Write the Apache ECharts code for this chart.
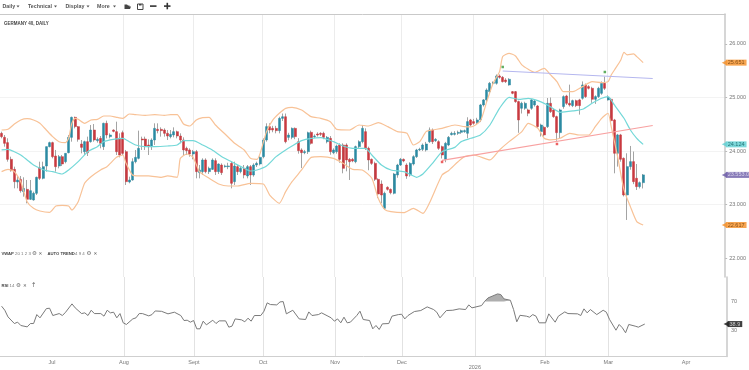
<!DOCTYPE html>
<html><head><meta charset="utf-8">
<style>html,body{margin:0;padding:0;background:#fff}#c{width:749px;height:370px}</style>
<script src="https://cdn.jsdelivr.net/npm/echarts@6/dist/echarts.min.js"></script>
</head><body><div id="c"></div>
<script>
const opens=[24330,24255,24156,23844,23657,23420,23470,23240,23283,23097,
23084,23209,23688,23489,23719,24081,24156,23906,23719,23894,
23800,23969,24255,24629,24455,24131,23987,24174,24174,24392,
24193,24236,24081,24517,24268,24392,24361,24236,24342,23987,
23420,23458,23800,23863,24224,24224,24112,24081,24205,24405,
24405,24392,24330,24268,24299,24361,24280,24205,24050,24019,
23944,23987,23595,23614,23832,23614,23657,23819,23614,23738,
23707,23707,23769,23427,23707,23614,23676,23533,23707,23551,
23738,23757,23894,24205,24455,24423,24423,24380,24610,24640,
24255,24255,24423,24174,24019,23969,23987,24349,24268,24318,
24330,24330,24174,24236,23969,23987,24112,24112,24112,23844,
23844,23800,24081,24174,24361,24050,23844,23769,23470,23383,
22928,23321,23283,23209,23551,23738,23844,23738,23551,23757,
23894,24019,24031,24019,24174,24392,24193,24174,24081,23844,
24112,24305,24311,24330,24349,24361,
24331,24580,24549,24530,24580,24860,24954,25109,25265,25265,25402,25377,25327,25234,25109,25109,24923,24798,24798,24767,24798,24860,24841,24362,24443,24455,24891,24767,24642,24343,24830,25028,24891,24848,24941,24954,24985,25234,25203,25172,24966,25016,25078,25265,
24954,24966,24580,23957,24300,23863,23178,23708,23801,23490,23334,23408];
const closes=[24268,24143,23844,23632,23427,23458,23258,23302,23097,23258,
23209,23508,23489,23707,24081,24156,23894,23707,23894,23757,
23956,24255,24629,24455,24218,24068,24174,23969,24392,24205,
24218,24143,24517,24299,24299,24367,23987,23925,23956,23427,
23458,23800,23881,24050,24205,24093,24081,24205,24423,24380,
24380,24330,24280,24311,24361,24280,24205,24019,24006,23944,
23987,23614,23645,23832,23614,23676,23832,23614,23757,23595,
23720,23720,23396,23719,23614,23676,23551,23707,23551,23738,
23769,23881,24205,24455,24392,24392,24380,24610,24640,24174,
24299,24423,24268,24006,23969,23987,24342,24143,24280,24299,
24311,24255,24255,23987,24019,24093,23844,23676,23832,23800,
23813,24081,24174,24423,24050,23832,23769,23470,23196,23177,
23209,23283,23221,23570,23738,23844,23813,23533,23769,23894,
24019,24031,24112,24131,24392,24174,24218,24050,23925,24143,
24255,24330,24330,24349,24380,24380,
24549,24486,24517,24580,24860,24954,25140,25265,25280,25402,25377,25296,25296,25340,25078,24923,24580,24891,24891,24705,24954,24935,24455,24486,24300,24891,24736,24642,24343,24767,25016,24891,24860,24941,24848,24848,25234,25016,25172,24966,25016,25172,25265,25172,
25003,24567,23957,24300,23845,23178,23708,23801,23427,23334,23408,23553];
const highs=[24361,24299,24237,23894,23707,23533,23533,23508,23458,23458,
23240,23520,23800,23800,24081,24174,24174,24019,23925,23925,
23956,24299,24642,24642,24467,24205,24193,24268,24486,24504,
24255,24280,24529,24567,24330,24405,24548,24330,24380,24019,
23520,23863,24019,24380,24268,24268,24218,24236,24517,24517,
24442,24423,24392,24392,24442,24380,24330,24255,24081,24050,
24019,24019,23738,23863,23863,23707,23863,23863,23769,23769,
23745,23780,23800,23800,23738,23707,23738,23738,23738,23769,
23800,23900,24236,24517,24517,24470,24470,24640,24700,24700,
24340,24440,24440,24240,24050,24020,24361,24380,24310,24350,
24350,24360,24280,24280,24050,24120,24143,24143,24143,23870,
23870,24100,24200,24486,24423,24081,23860,23800,23490,23450,
23240,23340,23300,23590,23760,23870,23860,23770,23790,23920,
24040,24060,24140,24170,24440,24420,24240,24200,24100,24170,
24280,24360,24370,24380,24400,24400,
24630,24600,24600,24620,24880,24970,25170,25290,25300,25430,25430,25400,25360,25360,25120,25120,24940,24920,24920,24790,24970,24950,24860,24510,24470,24990,25000,24790,24660,24790,25040,25050,25240,24960,24960,24975,25300,25260,25230,25200,25040,25200,25300,25390,
25040,24990,24600,24320,24320,23880,23957,24094,23990,23757,23430,23570];
const lows=[24237,24081,23800,23614,23302,23302,23221,23146,23022,23084,
23072,23177,23458,23470,23614,24068,23863,23614,23676,23719,
23769,23956,24174,24423,24174,23956,23925,23906,24156,24174,
24156,24050,24019,24236,24236,24349,23925,23881,23925,23364,
23396,23445,23769,23844,24019,24019,23925,24019,24112,24330,
24268,24268,24205,24236,24255,24236,24143,23925,23925,23894,
23844,23489,23489,23551,23583,23570,23645,23551,23570,23551,
23690,23660,23302,23364,23551,23583,23489,23489,23364,23520,
23700,23730,23863,24174,24330,24350,24330,24330,24560,24143,
24200,24220,24220,23950,23680,23940,23944,24120,24240,24270,
24280,24220,24143,23930,23940,23950,23780,23583,23620,23458,
23790,23770,24050,24143,24019,23640,23740,23440,23120,23022,
22900,23260,23190,23190,23500,23720,23790,23480,23520,23730,
23870,24000,24000,23990,24150,24130,24170,24020,23860,23790,
24090,24290,24290,24300,24320,24340,
24237,24460,24490,24500,24540,24830,24920,25080,25230,25240,25350,25280,25270,25220,25060,24900,24340,24700,24770,24650,24770,24830,24430,24270,24270,24430,24710,24620,24190,24240,24790,24860,24830,24820,24820,24680,24960,24990,25150,24900,24880,24990,25050,25140,
24940,24540,23583,23708,23800,23150,22711,23650,23380,23271,23300,23300];
// Bollinger readings: [bar number, price]
const bbUpper=[[0,24392],[2,24405],[4,24504],[6,24580],[8,24604],[10,24580],[12,24517],[14,24392],[16,24268],[18,24174],[20,24155],[21,24236],[22,24517],[23,24610],[24,24592],[26,24517],[28,24580],[30,24592],[32,24654],[34,24654],[36,24629],[38,24610],[40,24691],[42,24679],[45,24666],[48,24679],[51,24666],[53,24679],[55,24679],[57,24504],[59,24467],[61,24580],[63,24623],[65,24629],[67,24486],[70,24317],[73,24143],[76,24019],[78,23863],[80,23844],[81,23956],[83,24361],[85,24580],[87,24704],[89,24797],[91,24816],[94,24766],[97,24642],[100,24610],[103,24548],[105,24405],[109,24392],[112,24486],[115,24467],[118,24529],[121,24455],[124,24361],[127,24330],[129,24112],[131,24174],[133,24361],[135,24392],[138,24423],[142,24486],[145,24455],[147,24450],[150,24560],[152,24922],[154,25265],[156,25483],[157,25764],[159,25826],[161,25776],[163,25608],[165,25527],[167,25471],[170,25545],[172,25421],[174,25296],[176,25109],[179,25109],[182,25203],[185,25296],[188,25278],[190,25296],[191,25421],[192,25514],[194,25701],[195,25844],[196,25795],[198,25813],[199,25763],[201,25651]];
const bbMiddle=[[0,24019],[2,24031],[4,23987],[6,23925],[8,23832],[10,23738],[12,23676],[14,23632],[16,23614],[19,23570],[21,23645],[24,23800],[27,23987],[30,24081],[32,24174],[35,24218],[38,24236],[40,24174],[42,24112],[45,24081],[48,24081],[52,24093],[55,24112],[57,24193],[60,24193],[63,24112],[66,24019],[69,23894],[73,23769],[76,23676],[78,23626],[80,23645],[83,23720],[86,23894],[89,24019],[91,24093],[94,24193],[97,24236],[100,24249],[104,24174],[107,24093],[110,24050],[114,24050],[116,23925],[119,23738],[122,23645],[126,23614],[129,23533],[130,23508],[132,23570],[135,23769],[138,23987],[142,24068],[144,24175],[147,24237],[150,24299],[153,24486],[156,24798],[159,25003],[162,24966],[165,24985],[168,24941],[171,24860],[175,24723],[179,24748],[182,24779],[185,24891],[188,24985],[190,25016],[192,24860],[195,24611],[197,24393],[199,24237],[201,24124]];
const bbLower=[[0,23614],[2,23657],[4,23614],[6,23427],[8,23053],[10,22928],[12,22878],[15,22853],[17,22972],[19,22984],[21,22972],[22,22897],[24,23053],[26,23396],[28,23520],[31,23645],[33,23707],[36,23881],[38,23925],[39,23769],[41,23551],[43,23533],[46,23533],[50,23508],[52,23533],[55,23508],[56,23863],[58,23944],[60,23881],[62,23614],[65,23489],[68,23383],[71,23346],[74,23346],[78,23396],[82,23383],[84,23177],[87,23022],[89,23240],[91,23427],[94,23645],[97,23881],[100,23894],[104,23863],[107,23769],[110,23657],[113,23645],[116,23489],[118,23115],[120,22910],[122,22866],[126,22847],[129,22928],[132,22835],[134,23022],[138,23551],[140,23632],[143,23800],[145,23894],[148,23925],[153,23832],[156,24019],[159,24175],[163,24362],[165,24517],[168,24424],[170,24237],[172,24206],[175,24237],[178,24330],[181,24299],[184,24299],[186,24455],[188,24611],[190,24705],[191,24455],[193,23894],[195,23272],[197,22960],[199,22680],[201,22617]];
const rsiValues=[[0,63.6],[1,58],[2,48.8],[4,39.6],[5,41.5],[6,36.9],[8,35],[9,39.6],[10,39.6],[11,52],[12,47.5],[14,60.3],[15,60.8],[16,50.7],[18,53.4],[19,50.7],[20,55.3],[22,66.8],[23,61.3],[25,53.4],[26,54.4],[27,50.7],[28,58],[29,53.4],[31,53.4],[32,49.8],[33,58],[34,54.4],[35,55.3],[36,47.5],[37,53.4],[38,40.6],[39,38.3],[41,46],[42,47.5],[43,53.4],[44,53.4],[46,50.2],[47,52],[48,57],[50,56.5],[52,53],[54,55.3],[56,50.7],[57,43.8],[58,44.2],[59,41.5],[60,43.8],[61,32.3],[62,32.3],[63,42.9],[64,37.8],[66,44.2],[67,39.6],[68,43.3],[70,43.3],[71,34.6],[72,36],[73,46],[75,44.7],[76,42],[77,47],[78,42.9],[79,50.7],[81,50.7],[82,56.7],[83,68.2],[84,65.9],[86,65.4],[87,69.5],[88,70],[89,53],[91,58],[93,46],[95,45.2],[96,55.7],[97,50.7],[99,52],[100,54.4],[102,49.8],[103,47.5],[104,42.9],[105,46],[106,40.6],[107,48.4],[108,40.6],[109,41.5],[111,50.7],[112,56.7],[113,45.2],[115,43.8],[116,32.3],[117,36.9],[118,31.4],[119,39.2],[121,39.6],[122,49.8],[124,52],[125,52.5],[126,46],[127,50.7],[129,56.2],[131,57.6],[133,62.6],[135,59],[136,55.3],[137,47.5],[139,57.6],[141,58],[143,59.9],[145,59],[146,65.4],[147,61.3],[150,64.5],[151,70.5],[152,75],[155,80.6],[156,79.7],[157,73.7],[159,71.8],[160,59],[161,42],[162,51],[164,49.8],[165,48.4],[166,52],[167,49.8],[168,40.6],[170,40.6],[171,53],[173,41.5],[174,49.8],[176,55.7],[177,53.4],[180,53],[181,50.7],[182,59.9],[183,54.4],[184,59],[186,52],[188,58],[189,55.3],[190,45.2],[192,30.4],[193,38.3],[194,33.7],[195,26.8],[196,38.3],[198,36],[199,34.6],[201,38.9]];
const rsiOverbought=[[151,70],[151,70.5],[152,75],[155,80.6],[156,79.7],[157,73.7],[159,71.8],[159.3,70]];
const resistance=[[157,25495],[204,25355]];
const support=[[138,23823],[204,24476]];
const highMarkers=[[157,25570],[189,25476]];
const lowMarkers=[[138,23795],[174,24131]];
const monthTicks=[15.75,38.25,60.1,81.7,104.2,125.1,147.9,169.8,189.6,213.9];
const monthLabels=['Jul','Aug','Sept','Oct','Nov','Dec','2026','Feb','Mar','Apr'];
const priceTicks=[22000,23000,24000,25000,26000];
const rsiTicks=[30,70];
const lastUpper=25651, lastMiddle=24124, lastClose=23553, lastLower=22617, lastRsi=38.9;
const toolbarItems=[['Daily',2.5],['Technical',28],['Display',65.5],['More',97]];

const XMIN=-0.5, XMAX=226.7;
const fontFam='"Liberation Sans",Arial,sans-serif';
const dots=v=>String(v).replace(/\B(?=(\d{3})+$)/g,'.');
const wicks=opens.map((o,i)=>[i,o,closes[i],lows[i],highs[i]]);
const bodies=opens.map((o,i)=>[i,o,closes[i],Math.min(o,closes[i]),Math.max(o,closes[i])]);

function tag(val,bg,fg,axis,text){
  return {type:'scatter',xAxisIndex:axis,yAxisIndex:axis,clip:false,z:20,silent:true,
    symbol:'triangle',symbolRotate:90,symbolSize:[5,5],itemStyle:{color:bg},
    data:[[XMAX-0.3,val]],
    label:{show:true,position:'right',distance:-1,formatter:text,backgroundColor:bg,color:fg,
      fontSize:5.5,fontFamily:fontFam,padding:[0.5,2,0.5,2],lineHeight:5}};
}
function band(data,color){
  return {type:'line',data,showSymbol:false,silent:true,smooth:0.2,lineStyle:{color,width:1.2},z:5};
}
function txt(x,y,text,opt){
  return {type:'text',silent:true,style:Object.assign({x,y,text,fill:'#555',font:'5px '+fontFam,verticalAlign:'middle'},opt||{})};
}
const bold42='bold 4.2px '+fontFam, reg42='4.4px '+fontFam;
const graphics=[
  txt(4,24,'GERMANY 40, DAILY',{font:'bold 4.5px '+fontFam,fill:'#444'}),
  txt(1.5,253.7,'VWAP',{font:bold42,fill:'#444'}),
  txt(15,253.7,'20 1 2 3',{font:reg42,fill:'#777'}),
  txt(32,253.7,'⚙',{font:'5.5px "DejaVu Sans"',fill:'#666'}),
  txt(38.5,253.7,'✕',{font:'4.5px "DejaVu Sans"',fill:'#666'}),
  txt(47.5,253.7,'AUTO TREND',{font:bold42,fill:'#444'}),
  txt(75,253.7,'4 9 4',{font:reg42,fill:'#777'}),
  txt(86.5,253.7,'⚙',{font:'5.5px "DejaVu Sans"',fill:'#666'}),
  txt(93.5,253.7,'✕',{font:'4.5px "DejaVu Sans"',fill:'#666'}),
  txt(1.5,285.7,'RSI',{font:bold42,fill:'#444'}),
  txt(9.5,285.7,'14',{font:reg42,fill:'#777'}),
  txt(16,285.7,'⚙',{font:'5.5px "DejaVu Sans"',fill:'#666'}),
  txt(23,285.7,'✕',{font:'4.5px "DejaVu Sans"',fill:'#666'}),
  txt(31,285.7,'↑',{font:'6.5px "DejaVu Sans"',fill:'#666'}),
  {type:'polygon',silent:true,shape:{points:[[124.5,9],[124.5,4.5],[127,4.5],[128,5.5],[129.5,5.5],[129.5,6.5],[131,6.5],[130,9]]},style:{fill:'#444'}},
  {type:'rect',silent:true,shape:{x:137.5,y:4,width:5.5,height:5.5},style:{fill:'#fff',stroke:'#444',lineWidth:1}},
  {type:'rect',silent:true,shape:{x:139,y:4,width:2.5,height:1.5},style:{fill:'#444'}},
  {type:'rect',silent:true,shape:{x:150,y:5.3,width:6.5,height:1.6},style:{fill:'#333'}},
  {type:'rect',silent:true,shape:{x:164,y:5.3,width:6.5,height:1.6},style:{fill:'#333'}},
  {type:'rect',silent:true,shape:{x:166.5,y:2.8,width:1.6,height:6.5},style:{fill:'#333'}}
];
toolbarItems.forEach(([t,x])=>{
  graphics.push(txt(x,6.5,t,{font:'bold 5.3px '+fontFam,fill:'#555'}));
  const w={Daily:12,Technical:24,Display:19,More:14}[t];
  graphics.push({type:'polygon',silent:true,shape:{points:[[x+w+2,5.5],[x+w+5,5.5],[x+w+3.5,7.5]]},style:{fill:'#555'}});
});

const chart=echarts.init(document.getElementById('c'),null,{renderer:'canvas'});
chart.setOption({
  animation:false,backgroundColor:'#fff',
  grid:[{left:0,right:22,top:14,height:263},{left:0,right:22,top:277,height:80}],
  xAxis:[
    {type:'value',gridIndex:0,min:XMIN,max:XMAX,position:'top',
     axisLine:{show:true,onZero:false,lineStyle:{color:'#c9c9c9',width:1}},
     axisLabel:{show:false},axisTick:{show:false,customValues:monthTicks},
     splitLine:{show:true,showMinLine:false,showMaxLine:false,lineStyle:{color:'#ececec',width:1}}},
    {type:'value',gridIndex:1,min:XMIN,max:XMAX,position:'bottom',
     axisLine:{show:true,onZero:false,lineStyle:{color:'#cfcfcf',width:1}},
     axisTick:{show:false,customValues:monthTicks},
     axisLabel:{show:true,customValues:monthTicks,fontSize:5.5,color:'#777',fontFamily:fontFam,margin:3,lineHeight:5,
       formatter:v=>{const s=monthLabels[monthTicks.indexOf(v)];return s==='2026'?'\n'+s:s;}},
     splitLine:{show:true,showMinLine:false,showMaxLine:false,lineStyle:{color:'#e2e2e2',width:1}}}
  ],
  yAxis:[
    {type:'value',gridIndex:0,position:'right',min:21645,max:26560,
     axisLine:{show:true,onZero:false,lineStyle:{color:'#c9c9c9',width:1.5}},
     axisTick:{show:true,length:2,customValues:priceTicks,lineStyle:{color:'#bbb'}},
     axisLabel:{show:true,customValues:priceTicks,fontSize:5.5,color:'#777',fontFamily:fontFam,margin:4,formatter:v=>dots(v)},
     splitLine:{show:true,showMinLine:false,showMaxLine:false,lineStyle:{color:'#f3f3f3',width:1}}},
    {type:'value',gridIndex:1,position:'right',min:-6,max:104,
     axisLine:{show:true,onZero:false,lineStyle:{color:'#c9c9c9',width:1.5}},
     axisTick:{show:false,customValues:rsiTicks},
     axisLabel:{show:true,customValues:rsiTicks,fontSize:5.5,color:'#777',fontFamily:fontFam,margin:4},
     splitLine:{show:true,showMinLine:false,showMaxLine:false,lineStyle:{color:'#dcdcdc',width:1}}}
  ],
  graphic:{elements:graphics},
  series:[
    {type:'candlestick',data:wicks,barWidth:1,silent:true,z:2,
     itemStyle:{color:'#a4a4a4',color0:'#a4a4a4',borderColor:'#a4a4a4',borderColor0:'#a4a4a4',borderColorDoji:'#a4a4a4',borderWidth:1}},
    {type:'candlestick',data:bodies,barWidth:2.5,silent:true,z:3,
     itemStyle:{color:'#2b8aa2',color0:'#c8393f',borderColor:'#2b8aa2',borderColor0:'#c8393f',borderColorDoji:'#2b8aa2',borderWidth:0.5}},
    band(bbUpper,'#f8c297'),band(bbMiddle,'#73d8d8'),band(bbLower,'#f8c297'),
    {type:'line',data:resistance,showSymbol:false,silent:true,lineStyle:{color:'#b5b7ef',width:1.2},z:6},
    {type:'line',data:support,showSymbol:false,silent:true,lineStyle:{color:'#f8a1a1',width:1.2},z:6},
    {type:'scatter',data:highMarkers,symbol:'rect',symbolSize:2.5,silent:true,itemStyle:{color:'#3a9a3a'},z:7},
    {type:'scatter',data:lowMarkers,symbol:'rect',symbolSize:2.5,silent:true,itemStyle:{color:'#e8393a'},z:7},
    tag(lastUpper,'#f58f26','#6b3a05',0,dots(lastUpper)),
    tag(lastMiddle,'#5fd0d2','#0d5a5c',0,dots(lastMiddle)),
    tag(lastClose,'#6a5aa6','#e8e6f5',0,dots(lastClose)+'.00'),
    tag(lastLower,'#f58f26','#6b3a05',0,dots(lastLower)),
    {type:'line',xAxisIndex:1,yAxisIndex:1,data:rsiOverbought,showSymbol:false,silent:true,lineStyle:{width:0,color:'#aaa'},
     areaStyle:{origin:70,color:'#aeaeae',opacity:1},z:3},
    {type:'line',xAxisIndex:1,yAxisIndex:1,data:rsiValues,showSymbol:false,silent:true,lineStyle:{color:'#7a7a7a',width:1},z:4},
    tag(lastRsi,'#111','#eee',1,String(lastRsi))
  ]
});
</script></body></html>
